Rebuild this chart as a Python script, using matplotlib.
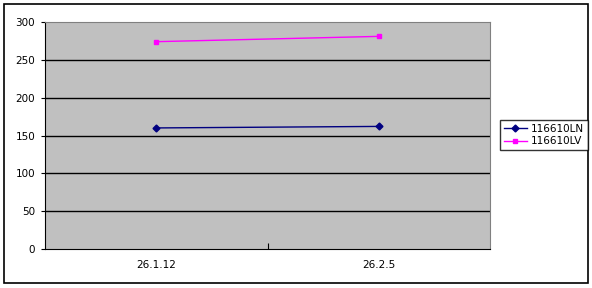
import matplotlib
matplotlib.use('Agg')
import matplotlib.pyplot as plt
from matplotlib.patches import Rectangle

dates = ['26.1.12', '26.2.5']
ln_values = [160, 162]
lv_values = [274, 281]
y_ticks = [0, 50, 100, 150, 200, 250, 300]

fig = plt.figure(figsize=(5.92, 2.88), dpi=100)
fig.patch.set_facecolor('white')
# outer chart border
fig.patches.append(Rectangle((4 / 592, 5 / 288), 584 / 592, 279 / 288, transform=fig.transFigure,
                             fill=False, edgecolor='black', linewidth=1.2))

ax = fig.add_axes([45 / 592, 39 / 288, 445 / 592, 227 / 288])
ax.set_facecolor('#c0c0c0')
x = range(len(dates))
ax.plot(x, ln_values, color='#000080', marker='D', markersize=3.5, linewidth=1, label='116610LN')
ax.plot(x, lv_values, color='#ff00ff', marker='s', markersize=3.5, linewidth=1, label='116610LV')

ax.set_xlim(-0.5, 1.5)
ax.set_ylim(0, 300)
ax.set_yticks(y_ticks)
ax.set_xticks([0.5], minor=False)
ax.set_xticklabels([''])
ax.set_xticks(list(x), minor=True)
ax.set_xticklabels(dates, minor=True)
ax.tick_params(axis='x', which='minor', length=0, labelsize=7.5, pad=8)
ax.tick_params(axis='x', which='major', length=4, direction='in')
ax.tick_params(axis='y', length=3, direction='out', labelsize=7.5, pad=4)
for yv in y_ticks[1:-1]:
    ax.axhline(yv, color='black', linewidth=1, zorder=1)
for side in ['top', 'right']:
    ax.spines[side].set_color('#808080')
for side in ['left', 'bottom']:
    ax.spines[side].set_color('black')

leg = fig.legend(loc='center left', bbox_to_anchor=(500 / 592, 153 / 288), frameon=True, fancybox=False,
                 edgecolor='black', fontsize=7.5, handlelength=2.2, handletextpad=0.4, borderpad=0.35,
                 labelspacing=0.25, borderaxespad=0)
leg.get_frame().set_linewidth(1)

fig.savefig('out.png', dpi=100)
